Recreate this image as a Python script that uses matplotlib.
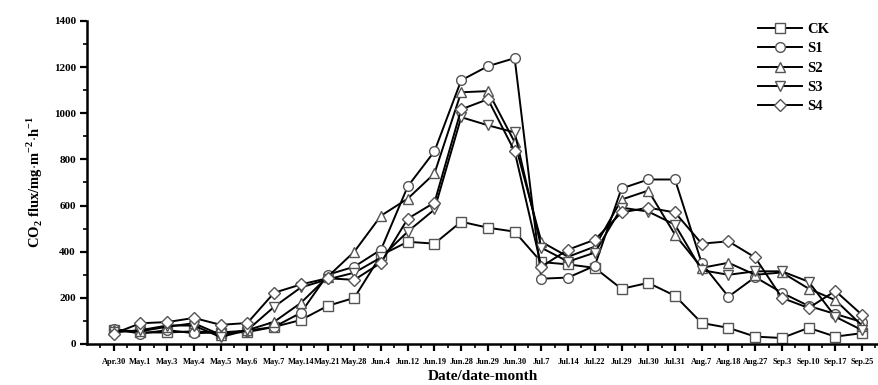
import numpy as np
import matplotlib.pyplot as plt
from matplotlib.ticker import MultipleLocator, FixedLocator

# ── Data ──────────────────────────────────────────────────────────────────────
dates = ["Apr.30", "May.1", "May.3", "May.4", "May.5", "May.6", "May.7",
         "May.14", "May.21", "May.28", "Jun.4", "Jun.12", "Jun.19", "Jun.28",
         "Jun.29", "Jun.30", "Jul.7", "Jul.14", "Jul.22", "Jul.29", "Jul.30",
         "Jul.31", "Aug.7", "Aug.18", "Aug.27", "Sep.3", "Sep.10", "Sep.17",
         "Sep.25"]

ck = [60, 50, 50, 55, 48, 52, 74, 104, 165, 200, 385, 443, 435, 530,
      504, 487, 355, 345, 330, 239, 265, 209, 91, 70, 32, 26, 70, 32, 47]
s1 = [65, 45, 60, 47, 50, 58, 74, 135, 300, 335, 409, 683, 835, 1143,
      1204, 1239, 283, 288, 339, 674, 713, 713, 350, 205, 290, 222, 165, 130, 95]
s2 = [60, 55, 75, 90, 40, 60, 96, 178, 291, 400, 556, 630, 739, 1091,
      1096, 875, 443, 378, 422, 626, 665, 474, 330, 352, 300, 310, 240, 190, 80]
s3 = [50, 60, 80, 80, 30, 60, 161, 245, 280, 309, 375, 487, 583, 983,
      948, 917, 417, 357, 396, 591, 574, 517, 320, 300, 315, 315, 270, 118, 60]
s4 = [45, 90, 95, 113, 83, 91, 222, 258, 285, 278, 352, 543, 613, 1017,
      1061, 835, 335, 409, 452, 570, 591, 570, 435, 445, 375, 200, 156, 230, 126]

series = [("CK", ck, "s"), ("S1", s1, "o"), ("S2", s2, "^"),
          ("S3", s3, "v"), ("S4", s4, "D")]

FONT = "Liberation Serif"
plt.rcParams["font.family"] = [FONT, "DejaVu Serif"]
plt.rcParams["mathtext.fontset"] = "custom"
plt.rcParams["mathtext.rm"] = FONT
plt.rcParams["mathtext.bf"] = FONT + ":bold"

fig = plt.figure(figsize=(8.79, 3.85), dpi=100)
ax = fig.add_axes([0.099, 0.1065, 0.9, 0.839])

x = np.arange(len(dates))
for name, vals, mk in series:
    ms = 6.0 if mk == "D" else 7.0
    ax.plot(x, vals, color="black", lw=1.4, marker=mk, ms=ms,
            mfc="white", mec="#555555", mew=1.0, label=name)

ax.set_xlim(-1, 28.6)
ax.set_ylim(0, 1400)

ax.xaxis.set_major_locator(FixedLocator(x))
ax.xaxis.set_minor_locator(FixedLocator(np.arange(-0.5, 28.6, 1.0)))
ax.set_xticklabels(dates, fontsize=6, fontweight="bold")
ax.yaxis.set_major_locator(MultipleLocator(200))
ax.yaxis.set_minor_locator(MultipleLocator(100))
for lab in ax.get_yticklabels():
    lab.set_fontsize(8)
    lab.set_fontweight("bold")

ax.tick_params(axis="both", which="major", direction="out", length=5,
               width=1.6, pad=3)
ax.tick_params(axis="both", which="minor", direction="out", length=3,
               width=1.2)
ax.tick_params(axis="x", which="major", pad=5)

for side in ["top", "right"]:
    ax.spines[side].set_visible(False)
for side in ["left", "bottom"]:
    ax.spines[side].set_linewidth(1.8)

ax.set_xlabel("Date/date-month", fontsize=11, fontweight="bold", labelpad=3)
ax.set_ylabel(r"CO$_\mathbf{2}$ flux/mg$\cdot$m$^{\mathbf{-2}}$$\cdot$h$^{\mathbf{-1}}$",
              fontsize=10.5, fontweight="bold", labelpad=6)

ax.legend(loc="upper right", bbox_to_anchor=(0.955, 1.035), frameon=False,
          prop={"family": FONT, "weight": "bold", "size": 10.5},
          handlelength=3.0, labelspacing=0.42, handletextpad=0.4)

fig.savefig("out.png", dpi=100, facecolor="white")
